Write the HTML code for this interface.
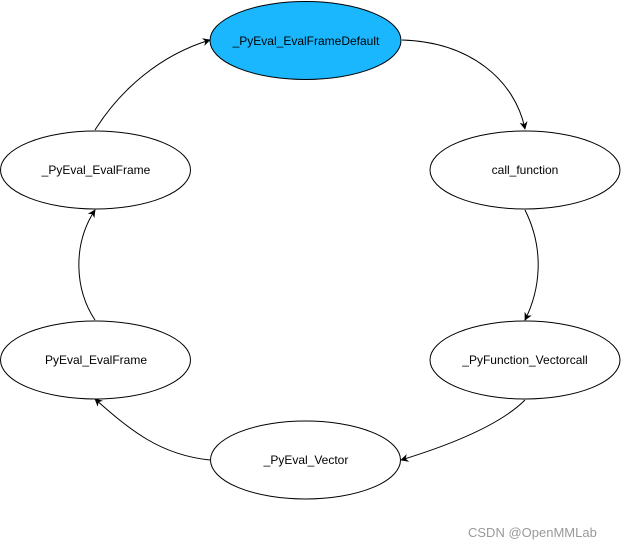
<!DOCTYPE html>
<html><head><style>
html,body{margin:0;padding:0;background:#fff;width:621px;height:551px;overflow:hidden}
svg text{font-family:"Liberation Sans",Arial,sans-serif;font-size:12px;fill:#000}
</style></head><body>
<svg width="621" height="551" viewBox="0 0 621 551" xmlns="http://www.w3.org/2000/svg">
<defs><marker id="a" viewBox="0 0 10 10" refX="9" refY="5" markerWidth="8" markerHeight="8" orient="auto"><path d="M0,0 L10,5 L0,10 L3,5 z" fill="#000"/></marker></defs>
<g fill="none" stroke="#000" stroke-width="1">
<path d="M402,40 C470,42 515,80 525,129" marker-end="url(#a)"/>
<path d="M525,210 C545,250 540,290 525,320" marker-end="url(#a)"/>
<path d="M525,400 C500,425 450,445 401,460" marker-end="url(#a)"/>
<path d="M210,460 C160,455 130,430 95,399" marker-end="url(#a)"/>
<path d="M95,320 C75,290 72,245 95,210" marker-end="url(#a)"/>
<path d="M95,130 C120,90 160,55 210,40" marker-end="url(#a)"/>
</g>
<g stroke="#000" stroke-width="1">
<ellipse cx="305.5" cy="40.5" rx="95.5" ry="39" fill="#1ab7ff"/>
<ellipse cx="525" cy="170" rx="95" ry="39" fill="#fff"/>
<ellipse cx="95.5" cy="170" rx="95" ry="39" fill="#fff"/>
<ellipse cx="95.5" cy="360" rx="95" ry="39" fill="#fff"/>
<ellipse cx="525" cy="360" rx="95" ry="39" fill="#fff"/>
<ellipse cx="305.5" cy="460" rx="95" ry="39" fill="#fff"/>
</g>
<g text-anchor="middle">
<text x="306" y="45">_PyEval_EvalFrameDefault</text>
<text x="525" y="174">call_function</text>
<text x="96" y="174">_PyEval_EvalFrame</text>
<text x="96" y="364">PyEval_EvalFrame</text>
<text x="525" y="364">_PyFunction_Vectorcall</text>
<text x="306" y="464">_PyEval_Vector</text>
</g>
<text x="468" y="537" style="font-size:13px;fill:#999">CSDN @OpenMMLab</text>
</svg>
</body></html>
